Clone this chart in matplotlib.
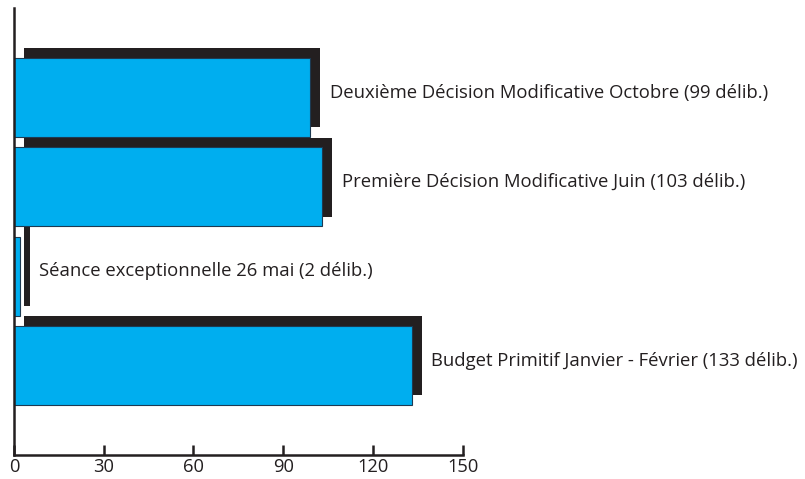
import matplotlib
matplotlib.use("Agg")
import matplotlib.pyplot as plt
from matplotlib.transforms import offset_copy

# données
sessions = [
    "Budget Primitif Janvier - Février",
    "Séance exceptionnelle 26 mai",
    "Première Décision Modificative Juin",
    "Deuxième Décision Modificative Octobre",
]
deliberations = [133, 2, 103, 99]
xticks = [0, 30, 60, 90, 120, 150]

BLUE = "#00aeef"
DARK = "#231f20"

plt.rcParams["font.family"] = ["Open Sans", "DejaVu Sans"]

fig = plt.figure(figsize=(8.05, 4.79), dpi=100)
ax = fig.add_axes([14 / 805, 1 - 455 / 479, (462.7 - 14) / 805, (455 - 8) / 479])

ypos = list(range(len(sessions)))
shadow_tr = offset_copy(ax.transData, fig=fig, x=7, y=7, units="points")

# ombre portée puis barre bleue
ax.barh(ypos, deliberations, height=0.885, color=DARK, edgecolor="none",
        transform=shadow_tr, zorder=1)
ax.barh(ypos, deliberations, height=0.885, color=BLUE, edgecolor="#1d3a52",
        linewidth=0.8, zorder=2)

for y, name, n in zip(ypos, sessions, deliberations):
    ax.annotate(f"{name} ({n} délib.)", xy=(n, y), xytext=(14, 3.5),
                textcoords="offset points", va="center", ha="left",
                fontsize=13.3, color=DARK, annotation_clip=False)

ax.set_xlim(0, 150)
ax.set_ylim(-1, 4)
ax.set_xticks(xticks)
ax.set_yticks([])
ax.tick_params(axis="x", direction="in", length=7, width=1.8, color=DARK,
               labelsize=13.2, labelcolor=DARK, pad=2)
for side in ["top", "right"]:
    ax.spines[side].set_visible(False)
for side in ["left", "bottom"]:
    ax.spines[side].set_linewidth(1.8)
    ax.spines[side].set_color(DARK)

fig.savefig("out.png", dpi=100)
